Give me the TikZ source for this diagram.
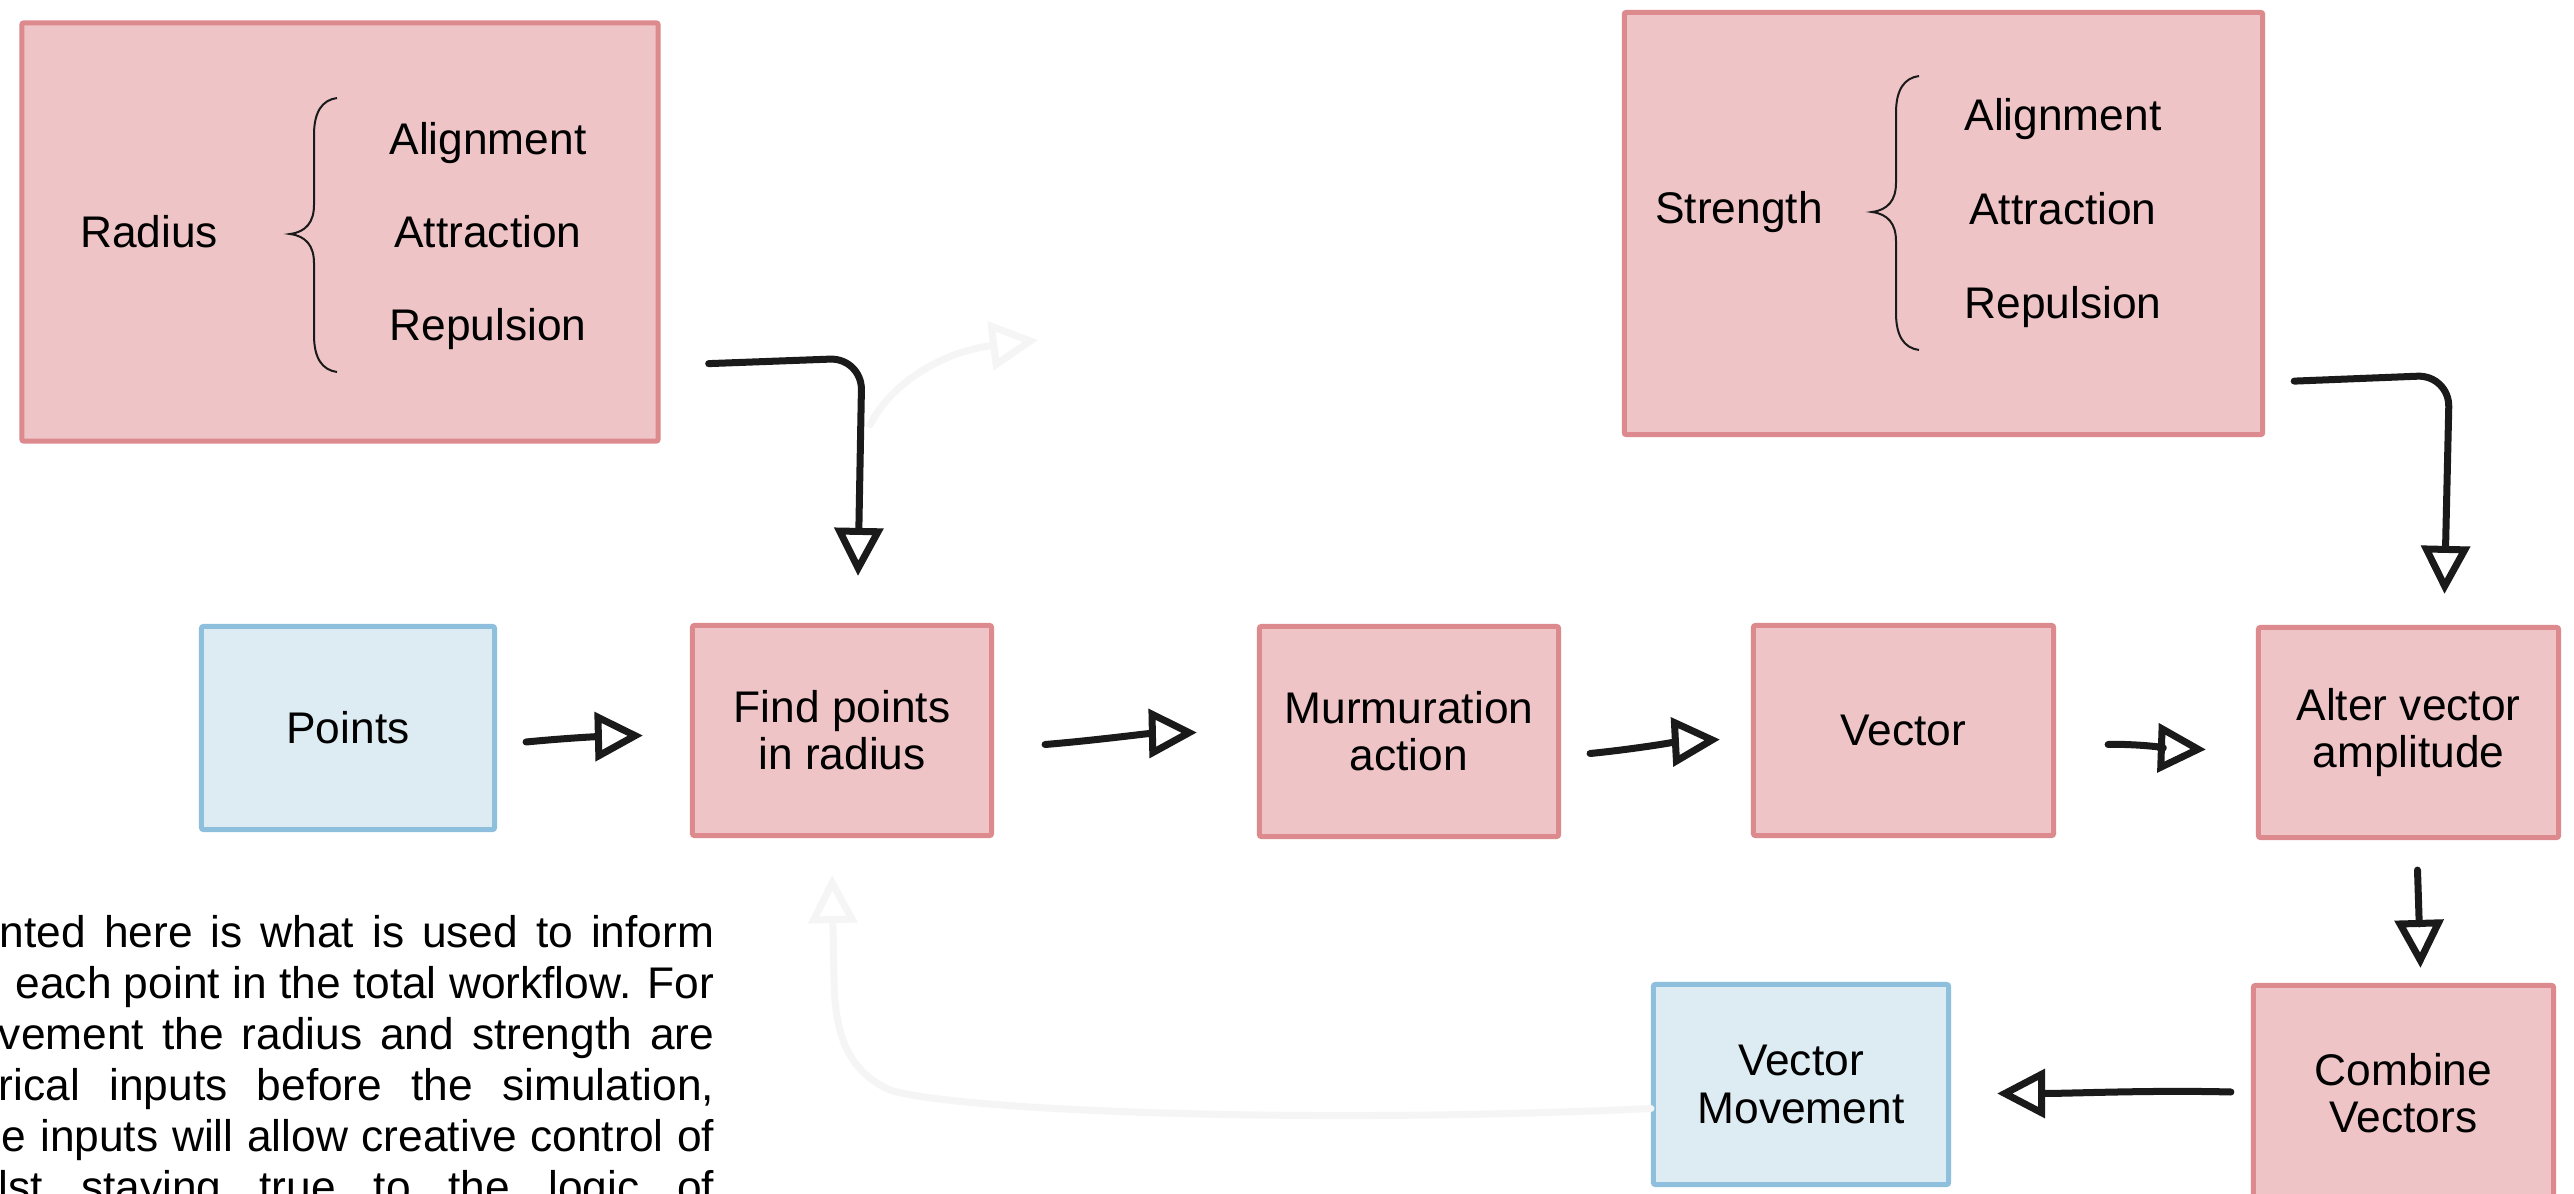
\documentclass[tikz,border=0pt]{standalone}
\usepackage{fontspec}
\setmainfont{Liberation Sans}
\usetikzlibrary{arrows.meta,calc}
\definecolor{pinkfill}{HTML}{EEC4C6}
\definecolor{pinkline}{HTML}{DC8A8E}
\definecolor{bluefill}{HTML}{DDEBF2}
\definecolor{blueline}{HTML}{8EC0DE}
\definecolor{ink}{HTML}{1A1A1A}
\definecolor{ghost}{HTML}{F5F5F5}
\tikzset{
  box/.style={draw, line width=0.05cm, rounded corners=0.02cm, inner sep=0pt, align=center,
    font=\fontsize{12.6}{13.4}\selectfont},
  pinkbox/.style={box, fill=pinkfill, draw=pinkline},
  bluebox/.style={box, fill=bluefill, draw=blueline},
  lbl/.style={anchor=base, inner sep=0pt, font=\fontsize{12.6}{13.4}\selectfont},
  para/.style={anchor=base east, inner sep=0pt, font=\fontsize{12.6}{14.5}\selectfont},
  arr/.style={draw=ink, line width=0.07cm, line cap=round, line join=round,
    -{Triangle[open, length=0.48cm, width=0.48cm]}},
  ghostarr/.style={arr, draw=ghost},
  bracepath/.style={draw=ink, line width=0.02cm},
}
\begin{document}
\begin{tikzpicture}[x=0.01cm, y=-0.01cm]
\useasboundingbox (0,0) rectangle (2574,1194);
\clip (0,0) rectangle (2574,1194);
\fill[white] (0,0) rectangle (2574,1194);

% input boxes
\node[pinkbox, minimum width=6.36cm, minimum height=4.18cm] (radius) at (340,232) {};
\node[pinkbox, minimum width=6.38cm, minimum height=4.22cm] (strength) at (1943.5,223.5) {};

% flow boxes
\node[bluebox, minimum width=2.93cm, minimum height=2.03cm] (points) at (348,728) {Points};
\node[pinkbox, minimum width=2.99cm, minimum height=2.10cm] (find) at (842,730.5) {Find points\\in radius};
\node[pinkbox, minimum width=2.99cm, minimum height=2.10cm] (murm) at (1409,731.5) {Murmuration\\action};
\node[pinkbox, minimum width=3.00cm, minimum height=2.10cm] (vector) at (1903.5,730.5) {Vector};
\node[pinkbox, minimum width=3.00cm, minimum height=2.10cm] (alter) at (2408.5,732.5) {Alter vector\\amplitude};
\node[pinkbox, minimum width=3.00cm, minimum height=2.15cm] (combine) at (2403.5,1093) {Combine\\Vectors};
\node[bluebox, minimum width=2.95cm, minimum height=2.00cm] (vm) at (1801,1084.5) {Vector\\Movement};

% ghost connectors (very faint)
\coordinate (g1end) at (1038,340);
\draw[ghostarr] ($(find.north)+(28,-198)$) .. controls (890,385) and (940,352) .. (g1end);
\draw[ghostarr] ($(vm.west)+(0,24)$) .. controls (1300,1125) and (950,1110) .. (890,1090)
   .. controls (845,1070) and (835,1030) .. (834,980) -- ($(find.south)+(-10,37)$);

% labels inside the input boxes
\node[lbl] (rlab) at (149,248) {Radius};
\node[lbl] (ra1) at (488,155) {Alignment};
\node[lbl] (ra2) at (488,248) {Attraction};
\node[lbl] (ra3) at (488,341) {Repulsion};
\draw[bracepath] (337,98) .. controls (322,100) and (314,112) .. (314,135) -- (314,205)
  .. controls (314,222) and (306,232) .. (290,234) .. controls (306,236) and (314,246) .. (314,263)
  -- (314,335) .. controls (314,358) and (322,370) .. (337,372);

\node[lbl] (slab) at (1739,224) {Strength};
\node[lbl] (sa1) at (2063,131) {Alignment};
\node[lbl] (sa2) at (2063,225) {Attraction};
\node[lbl] (sa3) at (2063,319) {Repulsion};
\begin{scope}[shift={(1582,-22)}]
\draw[bracepath] (337,98) .. controls (322,100) and (314,112) .. (314,135) -- (314,205)
  .. controls (314,222) and (306,232) .. (290,234) .. controls (306,236) and (314,246) .. (314,263)
  -- (314,335) .. controls (314,358) and (322,370) .. (337,372);
\end{scope}

% connectors
\draw[arr] ($(points.east)+(29,14)$) .. controls ($(points.east)+(70,10)$) and ($(find.west)+(-90,6)$) .. ($(find.west)+(-47,5)$);
\draw[arr] ($(find.east)+(51,14)$) .. controls ($(find.east)+(100,10)$) and ($(murm.west)+(-110,2)$) .. ($(murm.west)+(-60,1)$);
\draw[arr] ($(murm.east)+(29,22)$) .. controls ($(murm.east)+(70,18)$) and ($(vector.west)+(-70,11)$) .. ($(vector.west)+(-31,9)$);
\draw[arr] ($(vector.east)+(52,14)$) .. controls ($(vector.east)+(80,13)$) and ($(alter.west)+(-80,16)$) .. ($(alter.west)+(-50,17)$);
\draw[arr] ($(alter.south)+(9,30)$) .. controls ($(alter.south)+(10,60)$) and ($(combine.north)+(16,-50)$) .. ($(combine.north)+(17,-15)$);
\draw[arr] ($(combine.west)+(-20,-1)$) .. controls ($(combine.west)+(-100,-3)$) and ($(vm.east)+(120,9)$) .. ($(vm.east)+(46,9)$);
\draw[arr, rounded corners=0.32cm] ($(radius.south east)+(48,-80)$) -- ($(find.north)+(20,-265)$) -- ($(find.north)+(16,-47)$);
\draw[arr, rounded corners=0.32cm] ($(strength.south east)+(29,-56)$) -- ($(alter.north)+(41,-250)$) -- ($(alter.north)+(36,-31)$);

% paragraph (cut off at the page edges, as in the reference)
\node[para] (p1) at (715,947) {\makebox[7.14cm][s]{nted here is what is used to inform}};
\node[para] (p2) at (715,998) {each point in the total workflow. For};
\node[para] (p3) at (715,1049) {\makebox[7.15cm][s]{vement the radius and strength are}};
\node[para] (p4) at (715,1100) {\makebox[7.15cm][s]{rical inputs before the simulation,}};
\node[para] (p5) at (715,1151) {\makebox[7.12cm][s]{e inputs will allow creative control of}};
\node[para] (p6) at (715,1202) {\makebox[7.15cm][s]{lst staying true to the logic of}};
\end{tikzpicture}
\end{document}
